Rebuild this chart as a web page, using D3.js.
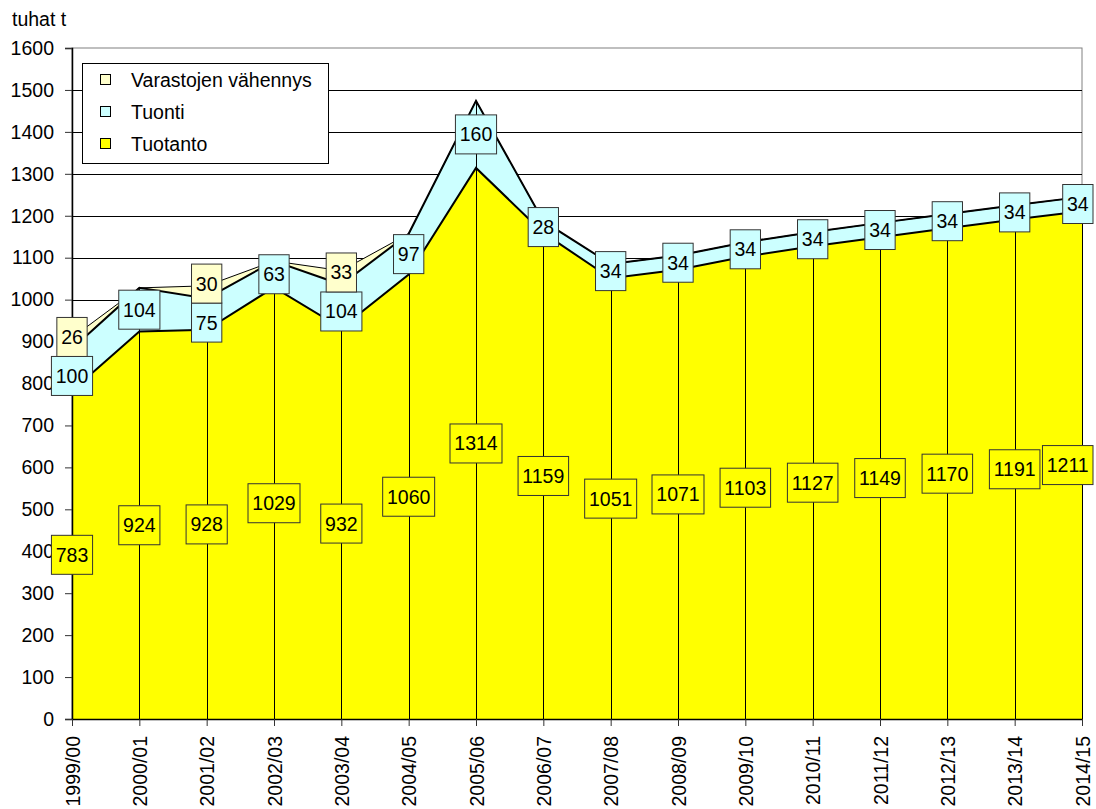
<!DOCTYPE html>
<html>
<head>
<meta charset="utf-8">
<script src="https://cdn.jsdelivr.net/npm/d3@7"></script>
<style>
  body { margin: 0; background: #fff; }
  text { font-family: "Liberation Sans", Arial, sans-serif; }
</style>
</head>
<body>
<div id="chart"></div>
<script>
// chart data
const years = ["1999/00", "2000/01", "2001/02", "2002/03", "2003/04", "2004/05", "2005/06", "2006/07",
               "2007/08", "2008/09", "2009/10", "2010/11", "2011/12", "2012/13", "2013/14", "2014/15"];
const tuotanto = [783, 924, 928, 1029, 932, 1060, 1314, 1159, 1051, 1071, 1103, 1127, 1149, 1170, 1191, 1211];
const tuonti = [100, 104, 75, 63, 104, 97, 160, 28, 34, 34, 34, 34, 34, 34, 34, 34];
const varasto = [26, 0, 30, 0, 33, 0, 0, 0, 0, 0, 0, 0, 0, 0, 0, 0];
const yTicks = [0, 100, 200, 300, 400, 500, 600, 700, 800, 900, 1000, 1100, 1200, 1300, 1400, 1500, 1600];

const seriesNames = ["Tuotanto", "Tuonti", "Varastojen vähennys"];
const seriesColors = ["#ffff00", "#ccffff", "#ffffcc"];

const width = 1096, height = 809;
const margin = {top: 48, right: 14, bottom: 90, left: 72};
const fontSize = "19.5px";

const svg = d3.select("#chart")
  .append("svg")
  .attr("width", width)
  .attr("height", height);

svg.append("rect").attr("width", width).attr("height", height).attr("fill", "#fff");

// table for the stack
const table = years.map((yr, i) => ({year: yr, s0: tuotanto[i], s1: tuonti[i], s2: varasto[i]}));
const keys = ["s0", "s1", "s2"];
const stacked = d3.stack().keys(keys)(table);

let xScale = d3.scalePoint()
  .domain(years)
  .range([margin.left, width - margin.right]);

let yScale = d3.scaleLinear()
  .domain([0, 1600])
  .range([height - margin.bottom, margin.top]);

// plot frame + gridlines
svg.append("rect")
  .attr("x", margin.left)
  .attr("y", margin.top)
  .attr("width", width - margin.right - margin.left)
  .attr("height", height - margin.bottom - margin.top)
  .attr("fill", "none")
  .attr("stroke", "#808080");

svg.append("g")
  .selectAll("line")
  .data(yTicks.filter(t => t > 0 && t < 1600))
  .enter()
  .append("line")
    .attr("x1", margin.left)
    .attr("x2", width - margin.right)
    .attr("y1", d => Math.round(yScale(d)) + 0.5)
    .attr("y2", d => Math.round(yScale(d)) + 0.5)
    .attr("stroke", "#000")
    .attr("stroke-width", 1);

// areas
const area = d3.area()
  .x((d, i) => xScale(years[i]))
  .y0(d => yScale(d[0]))
  .y1(d => yScale(d[1]));

const topLine = d3.line()
  .x((d, i) => xScale(years[i]))
  .y(d => yScale(d[1]));

svg.append("g")
  .selectAll("path")
  .data(stacked)
  .enter()
  .append("path")
    .attr("d", area)
    .attr("fill", (d, i) => seriesColors[i]);

// drop lines from axis to top of stack
svg.append("g")
  .selectAll("line")
  .data(table)
  .enter()
  .append("line")
    .attr("x1", d => Math.round(xScale(d.year)) + 0.5)
    .attr("x2", d => Math.round(xScale(d.year)) + 0.5)
    .attr("y1", yScale(0))
    .attr("y2", d => yScale(d.s0 + d.s1 + d.s2))
    .attr("stroke", "#000")
    .attr("stroke-width", 1);

// series borders
svg.append("g")
  .selectAll("path")
  .data(stacked.slice().reverse())
  .enter()
  .append("path")
    .attr("d", topLine)
    .attr("fill", "none")
    .attr("stroke", "#000")
    .attr("stroke-width", (d, i) => i === 0 ? 1 : 2);

// axes
const yAxis = svg.append("g")
  .attr("transform", `translate(${margin.left},0)`)
  .call(d3.axisLeft(yScale).tickValues(yTicks).tickSize(7).tickPadding(11).tickFormat(d3.format("d")));
yAxis.selectAll("text").attr("font-size", fontSize).attr("fill", "#000");
yAxis.select(".domain").attr("stroke", "#000").attr("stroke-width", 1.5);
yAxis.selectAll(".tick line").attr("stroke", "#333");

const xAxis = svg.append("g")
  .attr("transform", `translate(0,${height - margin.bottom})`)
  .call(d3.axisBottom(xScale).tickSize(7).tickSizeOuter(0));
xAxis.select(".domain").attr("stroke", "#000").attr("stroke-width", 1.5);
xAxis.selectAll(".tick line").attr("stroke", "#333");
xAxis.selectAll("text")
  .attr("font-size", fontSize)
  .attr("fill", "#000")
  .attr("transform", "rotate(-90)")
  .attr("x", -17)
  .attr("y", 0)
  .attr("dy", "0.36em")
  .attr("text-anchor", "end");

// unit label
svg.append("text")
  .attr("x", 12)
  .attr("y", 26)
  .attr("font-size", fontSize)
  .text("tuhat t");

// data labels
const boxH = 39, padX = 4.3;
const labels = [];
years.forEach((yr, i) => {
  const col = [];
  stacked.forEach((s, k) => {
    const v = s[i][1] - s[i][0];
    if (v > 0) col.push({k: k, v: v, x: xScale(yr), cy: yScale((s[i][0] + s[i][1]) / 2)});
  });
  // push overlapping boxes apart
  for (let pass = 0; pass < 3; pass++) {
    for (let j = 1; j < col.length; j++) {
      const gap = col[j - 1].cy - col[j].cy;
      if (gap < boxH) {
        const shift = (boxH - gap) / 2;
        col[j - 1].cy += shift;
        col[j].cy -= shift;
      }
    }
  }
  col.forEach(c => labels.push(c));
});

const lab = svg.append("g")
  .selectAll("g")
  .data(labels)
  .enter()
  .append("g");

lab.append("text")
  .attr("font-size", fontSize)
  .attr("text-anchor", "middle")
  .text(d => d.v)
  .each(function(d) { d.w = this.getComputedTextLength() + padX * 2; });

lab.each(function(d) {
  d.bx = Math.min(d.x - d.w / 2, width - 3 - d.w);
});

lab.insert("rect", "text")
  .attr("x", d => d.bx)
  .attr("y", d => d.cy - boxH / 2)
  .attr("width", d => d.w)
  .attr("height", boxH)
  .attr("fill", d => seriesColors[d.k])
  .attr("stroke", "#333")
  .attr("stroke-width", 1);

lab.select("text")
  .attr("x", d => d.bx + d.w / 2)
  .attr("y", d => d.cy + 7);

// legend
const legend = svg.append("g");
legend.append("rect")
  .attr("x", 82.5)
  .attr("y", 63.5)
  .attr("width", 246)
  .attr("height", 100)
  .attr("fill", "#fff")
  .attr("stroke", "#000");

const legendOrder = [2, 1, 0];
legendOrder.forEach((k, j) => {
  const cy = 80 + j * 32;
  legend.append("rect")
    .attr("x", 100.5)
    .attr("y", cy - 5.5)
    .attr("width", 10)
    .attr("height", 10)
    .attr("fill", seriesColors[k])
    .attr("stroke", "#000");
  legend.append("text")
    .attr("x", 131)
    .attr("y", cy + 7)
    .attr("font-size", fontSize)
    .text(seriesNames[k]);
});
</script>
</body>
</html>
